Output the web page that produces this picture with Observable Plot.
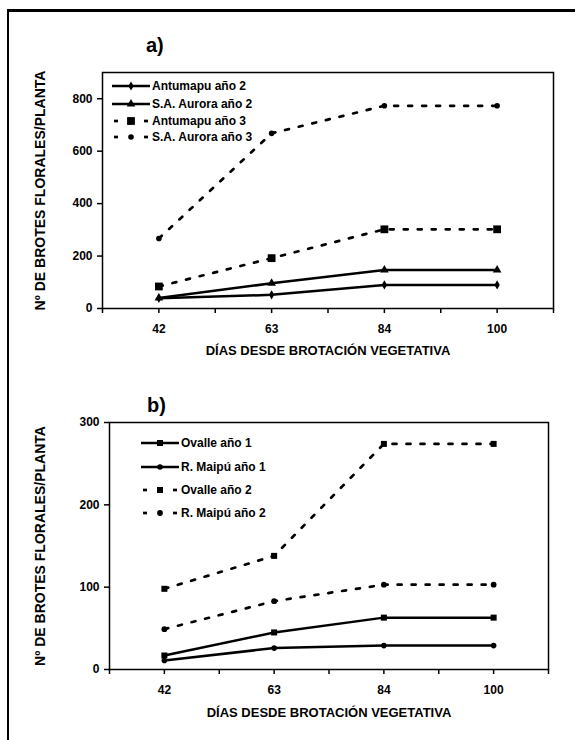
<!DOCTYPE html>
<html>
<head>
<meta charset="utf-8">
<script src="https://cdn.jsdelivr.net/npm/d3@7"></script>
<script src="https://cdn.jsdelivr.net/npm/@observablehq/plot@0.6"></script>
<style>
  body { margin: 0; background: #fff; }
  #page { position: relative; width: 575px; height: 740px; overflow: hidden; background: #fff;
          font-family: "Liberation Sans", Arial, sans-serif; font-weight: bold; color: #000; }
  #border { position: absolute; left: 7px; top: 9px; width: 700px; height: 900px;
            border-left: 2.5px solid #000; border-top: 3px solid #000; }
  .panel { position: absolute; left: 0; }
  .tag { position: absolute; font-size: 20px; line-height: 24px; font-weight: bold; }
  .lrow { position: absolute; height: 16px; display: flex; align-items: center; white-space: nowrap;
          font-size: 12px; font-weight: bold; }
  .lrow svg { display: block; margin-right: 2px; }
</style>
</head>
<body>
<div id="page">
  <div id="border"></div>
  <div class="tag" style="left:146px;top:33px;">a)</div>
  <div class="tag" style="left:147px;top:393px;">b)</div>
</div>
<script>
// ---------- data ----------
const days = ["42", "63", "84", "100"];

// panel a
const antumapu2 = [39, 52, 90, 90];
const aurora2   = [40, 96, 147, 147];
const antumapu3 = [84, 192, 302, 302];
const aurora3   = [267, 668, 773, 773];
const ticksA = [0, 200, 400, 600, 800];

// panel b
const ovalle1 = [17, 45, 63, 63];
const maipu1  = [11, 26, 29, 29];
const ovalle2 = [98, 138, 274, 274];
const maipu2  = [49, 83, 103, 103];
const ticksB = [0, 100, 200, 300];

const yTitle = "Nº DE BROTES FLORALES/PLANTA";
const xTitle = "DÍAS DESDE BROTACIÓN VEGETATIVA";

const seriesA = [
  {name: "Antumapu año 2",   values: antumapu2, dashed: false, symbol: "diamond",  r: 2.8},
  {name: "S.A. Aurora año 2", values: aurora2,  dashed: false, symbol: "triangle", r: 3.2},
  {name: "Antumapu año 3",   values: antumapu3, dashed: true,  symbol: "square",   r: 4.4},
  {name: "S.A. Aurora año 3", values: aurora3,  dashed: true,  symbol: "circle",   r: 2.8}
];
const seriesB = [
  {name: "Ovalle año 1",    values: ovalle1, dashed: false, symbol: "square", r: 3.4},
  {name: "R. Maipú año 1",  values: maipu1,  dashed: false, symbol: "circle", r: 2.8},
  {name: "Ovalle año 2",    values: ovalle2, dashed: true,  symbol: "square", r: 3.4},
  {name: "R. Maipú año 2",  values: maipu2,  dashed: true,  symbol: "circle", r: 2.9}
];

const FONT = '"Liberation Sans", Arial, sans-serif';

function makePanel({series, yMax, yTicks, top, mTop, mRight, mBottom, mLeft, titleDx, titleDy}) {
  const idx = days.map((_, i) => i);
  const halfSteps = d3.range(-0.5, days.length, 0.5);
  const marks = [];
  for (const s of series) {
    const rows = s.values.map((v, i) => ({i, v}));
    const lineOpts = {x: "i", y: "v", stroke: "#000", strokeWidth: s.dashed ? 2.7 : 2.5, curve: "linear"};
    if (s.dashed) { lineOpts.strokeDasharray = "4,10"; }
    marks.push(Plot.line(rows, lineOpts));
    marks.push(Plot.dot(rows, {x: "i", y: "v", symbol: s.symbol, r: s.r, fill: "#000", stroke: "none"}));
  }
  marks.push(Plot.frame({stroke: "#000", strokeWidth: 1.5}));
  marks.push(Plot.axisY({ticks: yTicks, tickSize: 5, tickPadding: 5, fontSize: 12, fontWeight: "bold", label: null, tickFormat: d => String(d), strokeWidth: 1.5}));
  marks.push(Plot.axisX({ticks: halfSteps, tickSize: 5, tickFormat: () => "", label: null, strokeWidth: 1.5}));
  marks.push(Plot.axisX({ticks: idx, tickSize: 0, tickPadding: 16, fontSize: 12, fontWeight: "bold", tickFormat: i => days[i], label: null}));
  marks.push(Plot.text([yTitle], {text: d => d, frameAnchor: "left", dx: titleDx, rotate: -90, textAnchor: "middle", lineAnchor: "middle", fontSize: 14, fontWeight: "bold"}));
  marks.push(Plot.text([xTitle], {text: d => d, frameAnchor: "bottom", dy: titleDy, textAnchor: "middle", lineAnchor: "middle", fontSize: 13, fontWeight: "bold"}));

  const svg = Plot.plot({
    width: 575, height: 370,
    marginTop: mTop, marginRight: mRight, marginBottom: mBottom, marginLeft: mLeft,
    style: {fontFamily: FONT, fontWeight: "bold", fontSize: "12px", background: "transparent", color: "#000", overflow: "visible"},
    x: {type: "linear", domain: [-0.5, days.length - 0.5], axis: null},
    y: {type: "linear", domain: [0, yMax], axis: null},
    marks
  });
  const wrap = document.createElement("div");
  wrap.className = "panel";
  wrap.style.top = top + "px";
  wrap.appendChild(svg);
  document.getElementById("page").appendChild(wrap);
}

function makeLegend(series, left, centers, swW) {
  const page = document.getElementById("page");
  series.forEach((s, k) => {
    const row = document.createElement("div");
    row.className = "lrow";
    row.style.left = left + "px";
    row.style.top = (centers[k] - 8) + "px";
    const svg = d3.create("svg").attr("width", swW).attr("height", 12);
    const mid = swW / 2;
    if (s.dashed) {
      svg.append("line").attr("x1", 2).attr("x2", 6).attr("y1", 6).attr("y2", 6).attr("stroke", "#000").attr("stroke-width", 2.7);
      svg.append("line").attr("x1", swW - 6).attr("x2", swW - 2).attr("y1", 6).attr("y2", 6).attr("stroke", "#000").attr("stroke-width", 2.7);
    } else {
      svg.append("line").attr("x1", 0).attr("x2", swW).attr("y1", 6).attr("y2", 6).attr("stroke", "#000").attr("stroke-width", 2.5);
    }
    const symMap = {circle: d3.symbolCircle, square: d3.symbolSquare, triangle: d3.symbolTriangle, diamond: d3.symbolDiamond};
    svg.append("path")
      .attr("transform", `translate(${mid},6)`)
      .attr("d", d3.symbol(symMap[s.symbol], s.r * s.r * Math.PI)())
      .attr("fill", "#000");
    row.appendChild(svg.node());
    const span = document.createElement("span");
    span.textContent = s.name;
    row.appendChild(span);
    page.appendChild(row);
  });
}

makePanel({series: seriesA, yMax: 900, yTicks: ticksA, top: 0, mTop: 72, mRight: 22, mBottom: 62, mLeft: 102, titleDx: -62, titleDy: 42});
makePanel({series: seriesB, yMax: 300, yTicks: ticksB, top: 370, mTop: 52, mRight: 27, mBottom: 71, mLeft: 109, titleDx: -69, titleDy: 43});

makeLegend(seriesA, 112, [86, 104, 121, 137], 38);
makeLegend(seriesB, 141, [443, 467, 490, 513], 38);
</script>
</body>
</html>
